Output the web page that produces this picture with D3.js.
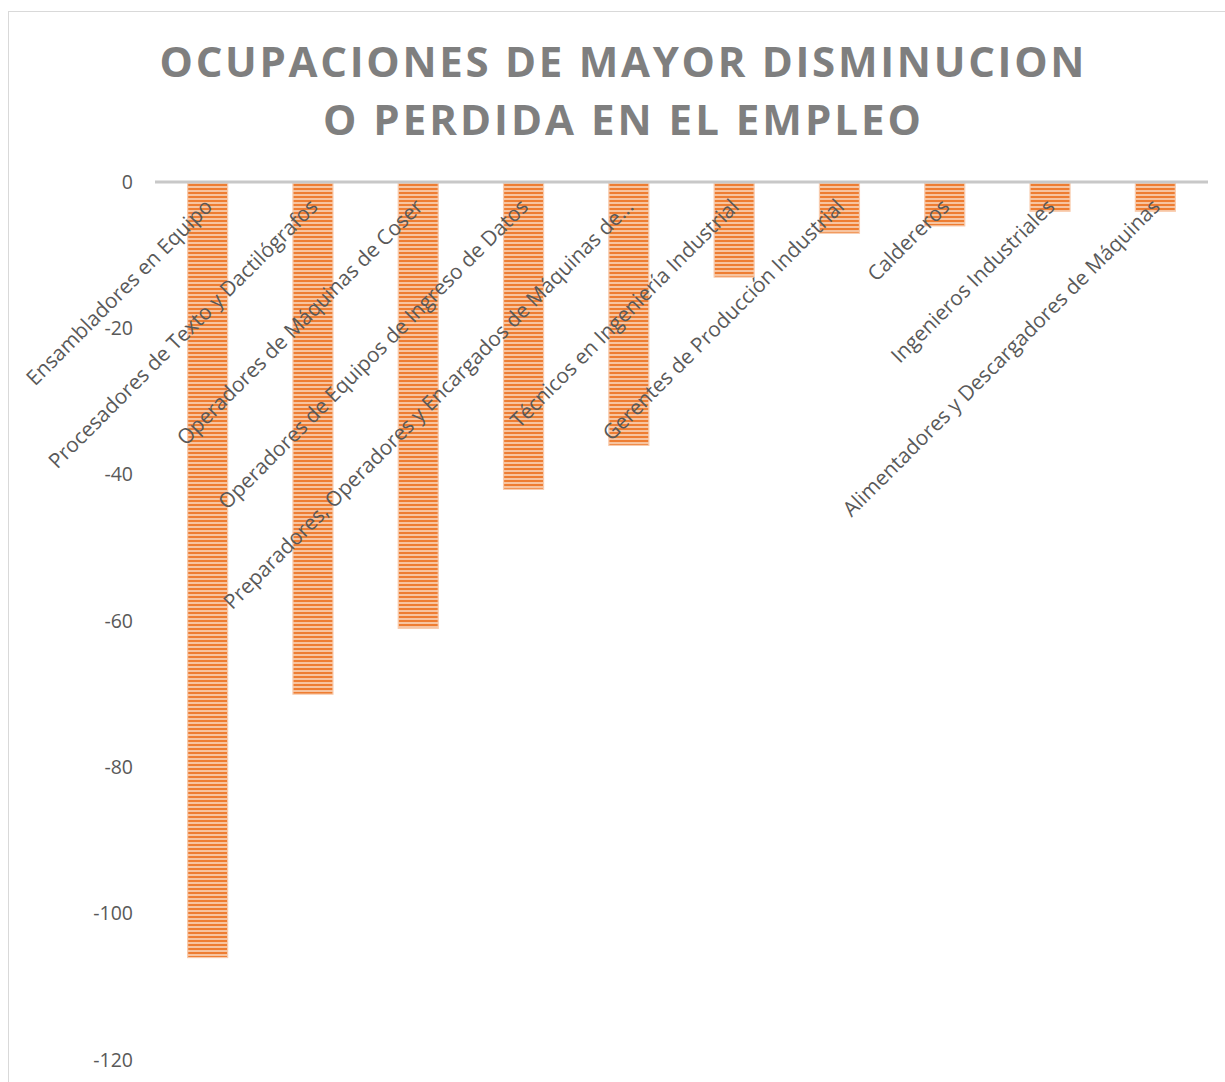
<!DOCTYPE html>
<html>
<head>
<meta charset="utf-8">
<script src="https://cdn.jsdelivr.net/npm/d3@7"></script>
<style>
  body { margin: 0; background: #fff; }
  svg { display: block; }
</style>
</head>
<body>
<div id="chart"></div>
<script>
const titleLines = ["OCUPACIONES DE MAYOR DISMINUCION", "O PERDIDA EN EL EMPLEO"];

const categories = [
  "Ensambladores en Equipo",
  "Procesadores de Texto y Dactilógrafos",
  "Operadores de Máquinas de Coser",
  "Operadores de Equipos de Ingreso de Datos",
  "Preparadores, Operadores y Encargados de Máquinas de...",
  "Técnicos en Ingeniería Industrial",
  "Gerentes de Producción Industrial",
  "Caldereros",
  "Ingenieros Industriales",
  "Alimentadores y Descargadores de Máquinas"
];

const values = [-106, -70, -61, -42, -36, -13, -7, -6, -4, -4];

const yTicks = [0, -20, -40, -60, -80, -100, -120];

const width = 1225, height = 1082;
const margin = {top: 182, left: 155, right: 15, bottom: 22};

const svg = d3.select("#chart").append("svg")
    .attr("width", width)
    .attr("height", height);

// stripe pattern for the bars
const defs = svg.append("defs");
const pat = defs.append("pattern")
    .attr("id", "stripes")
    .attr("patternUnits", "userSpaceOnUse")
    .attr("width", 8)
    .attr("height", 4);
pat.append("rect").attr("width", 8).attr("height", 4).attr("fill", "#f7c4a0");
pat.append("rect").attr("width", 8).attr("height", 2).attr("fill", "#ee7d32");

// chart area border
svg.append("rect")
    .attr("x", 8.5)
    .attr("y", 11.5)
    .attr("width", width + 20)
    .attr("height", height + 20)
    .attr("fill", "none")
    .attr("stroke", "#d9d9d9")
    .attr("stroke-width", 1);

const x = d3.scaleBand()
    .domain(categories)
    .range([margin.left, 1208])
    .paddingInner(0.62)
    .paddingOuter(0.31);

const y = d3.scaleLinear()
    .domain([0, -120])
    .range([margin.top, 1060]);

// title
svg.append("g")
  .selectAll("text")
  .data(titleLines)
  .join("text")
    .attr("x", 622)
    .attr("y", (d, i) => 77 + i * 58)
    .attr("text-anchor", "middle")
    .attr("font-family", "'Open Sans', sans-serif")
    .attr("font-weight", "bold")
    .attr("font-size", 42)
    .attr("fill", "#7f7f7f")
    .attr("textLength", (d, i) => i === 0 ? 925 : 598)
    .attr("lengthAdjust", "spacing")
    .text(d => d);

// y axis labels (no line)
const yAxis = svg.append("g")
    .attr("transform", `translate(${margin.left - 22},0)`)
    .call(d3.axisLeft(y).tickValues(yTicks).tickSize(0).tickPadding(0).tickFormat(d3.format("d")));
yAxis.select(".domain").remove();
yAxis.selectAll("text")
    .attr("font-family", "'Open Sans', sans-serif")
    .attr("font-size", 19.5)
    .attr("fill", "#595959")
    .text(d => String(d).replace("−", "-"));

// bars
svg.append("g")
  .selectAll("rect")
  .data(values)
  .join("rect")
    .attr("x", (d, i) => x(categories[i]))
    .attr("y", y(0))
    .attr("width", x.bandwidth())
    .attr("height", d => y(d) - y(0))
    .attr("fill", "url(#stripes)")
    .attr("stroke", "#f8cbad")
    .attr("stroke-width", 1.2);

// zero line
svg.append("line")
    .attr("x1", margin.left)
    .attr("x2", 1208)
    .attr("y1", y(0))
    .attr("y2", y(0))
    .attr("stroke", "#c8c8c8")
    .attr("stroke-width", 3);

// category labels, rotated
svg.append("g")
  .selectAll("text")
  .data(categories)
  .join("text")
    .attr("transform", d => `translate(${x(d) + x.bandwidth() / 2 + 6},${y(0) + 26}) rotate(-45)`)
    .attr("text-anchor", "end")
    .attr("font-family", "'Open Sans', sans-serif")
    .attr("font-size", 20.8)
    .attr("fill", "#595959")
    .text(d => d);
</script>
</body>
</html>
